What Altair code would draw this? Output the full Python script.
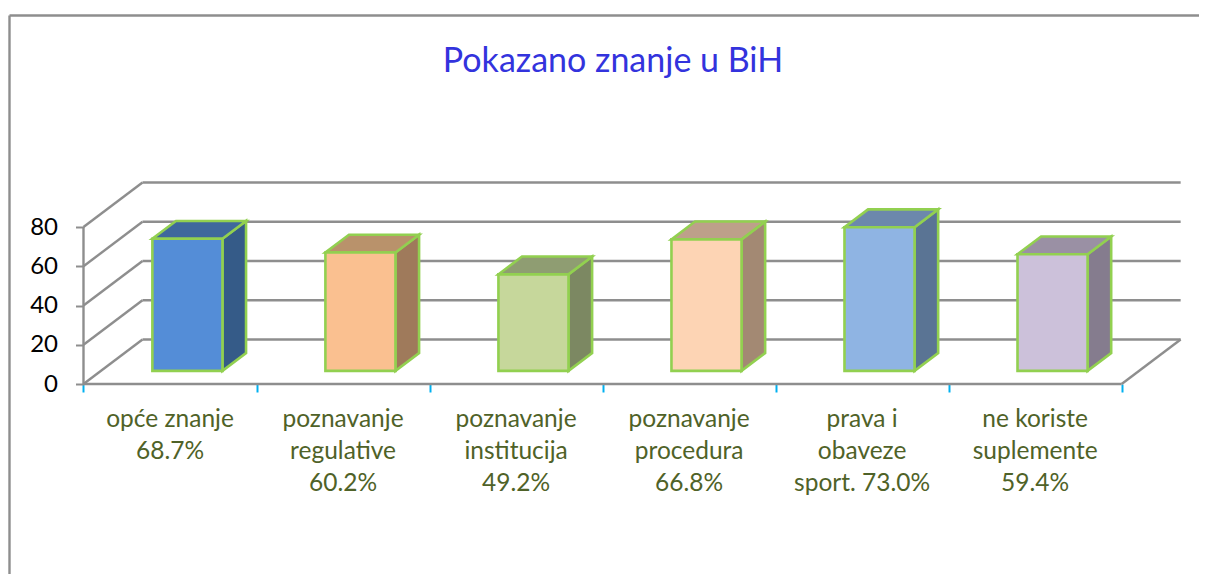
import altair as alt
import pandas as pd

# ---- values ----
categories = ["opće znanje", "poznavanje regulative", "poznavanje institucija",
              "poznavanje procedura", "prava i obaveze sport.", "ne koriste suplemente"]
label_lines = ["opće znanje\n68.7%", "poznavanje\nregulative\n60.2%", "poznavanje\ninstitucija\n49.2%",
               "poznavanje\nprocedura\n66.8%", "prava i\nobaveze\nsport. 73.0%", "ne koriste\nsuplemente\n59.4%"]
values = [67.3, 60.3, 49.2, 67.0, 73.2, 59.4]
front_colors = ["#548dd7", "#fac090", "#c6d79b", "#fdd4b4", "#8fb4e3", "#ccc1da"]
top_colors = ["#3f689c", "#b9926b", "#8f9d72", "#bda08a", "#6c88ac", "#9a90a4"]
side_colors = ["#355b88", "#9f7a5b", "#7c8862", "#a38973", "#5a7494", "#857c8e"]
y_ticks = [0, 20, 40, 60, 80]
x_ticks = [0, 1, 2, 3, 4, 5, 6]

# ---- the 3-D projection, in data units ----
WALL_DX, WALL_DY = 0.341, 22.7          # how far the back wall is shifted
BAR_FRONT = 0.295                       # depth of a bar's front face (share of the wall depth)
BAR_DEPTH = 0.40                        # depth of a bar (share of the wall depth)
BAR_WIDTH = 0.405                       # front-face width, in categories
X_DOM = [-0.4363, 6.447]
Y_DOM = [-96.8, 191.6]

W, H = 1191, 566
LABEL_FONT = "Lato"
GRAY = "#8e8e8e"
GREEN = "#92d050"
LINE = 2.4

xs = alt.Scale(domain=X_DOM, range=[0, W], nice=False, zero=False)
ys = alt.Scale(domain=Y_DOM, range=[H, 0], nice=False, zero=False)
x_ax = alt.Axis(values=x_ticks, offset=-190, domain=False, grid=False, tickColor="#00b0f0",
                tickWidth=2, tickSize=8, labels=False, title=None)
y_ax = alt.Axis(values=y_ticks, offset=-75.5, domain=False, grid=False, tickColor=GRAY, tickWidth=2,
                tickSize=8, labelFont=LABEL_FONT, labelFontSize=24, labelColor="#000000",
                labelPadding=18, title=None)
X = lambda f: alt.X(f, type="quantitative", scale=xs, axis=x_ax)
Y = lambda f: alt.Y(f, type="quantitative", scale=ys, axis=y_ax)

# walls
back_rows = pd.DataFrame([{"x": WALL_DX, "x2": 6 + WALL_DX, "y": v + WALL_DY} for v in y_ticks])
diag_rows = pd.DataFrame([{"x": 0, "x2": WALL_DX, "y": v, "y2": v + WALL_DY} for v in y_ticks]
                         + [{"x": 6, "x2": 6 + WALL_DX, "y": 0, "y2": WALL_DY}])
front_wall = pd.DataFrame([{"x": 0, "y": 0, "y2": 80}])
floor_front = pd.DataFrame([{"x": 0, "x2": 6, "y": 0}])

back = alt.Chart(back_rows).mark_rule(color=GRAY, strokeWidth=LINE).encode(
    x=X("x"), x2="x2", y=Y("y"))
diag = alt.Chart(diag_rows).mark_rule(color=GRAY, strokeWidth=LINE).encode(
    x=X("x"), x2="x2", y=Y("y"), y2="y2")
vert = alt.Chart(front_wall).mark_rule(color=GRAY, strokeWidth=LINE).encode(
    x=X("x"), y=Y("y"), y2="y2")
floor = alt.Chart(floor_front).mark_rule(color=GRAY, strokeWidth=LINE).encode(
    x=X("x"), x2="x2", y=Y("y"))

# bars
front_faces, side_faces, top_faces = [], [], []
for i, v in enumerate(values):
    fx = BAR_FRONT * WALL_DX
    fy = BAR_FRONT * WALL_DY
    dx = BAR_DEPTH * WALL_DX
    dy = BAR_DEPTH * WALL_DY
    xl = i + 0.5 - BAR_WIDTH / 2 + fx
    xr = xl + BAR_WIDTH
    y0 = fy
    y1 = fy + v
    front_faces.append({"x": xl, "x2": xr, "y": y0, "y2": y1, "fill": front_colors[i]})
    for xa, ya, yb in [(xr, y1, y0), (xr + dx, y1 + dy, y0 + dy)]:
        side_faces.append({"id": i, "x": xa, "y": ya, "y2": yb, "fill": side_colors[i]})
    for xa, xb, ya in [(xl, xr, y1), (xl + dx, xr + dx, y1 + dy)]:
        top_faces.append({"id": i, "x": xa, "x2": xb, "y": ya, "fill": top_colors[i]})

front = alt.Chart(pd.DataFrame(front_faces)).mark_rect(stroke=GREEN, strokeWidth=2.6).encode(
    x=X("x"), x2="x2", y=Y("y"), y2="y2", fill=alt.Fill("fill:N", scale=None))
side = alt.Chart(pd.DataFrame(side_faces)).mark_area(stroke=GREEN, strokeWidth=2.6, interpolate="linear").encode(
    x=X("x"), y=Y("y"), y2="y2", detail="id:N", fill=alt.Fill("fill:N", scale=None))
top = alt.Chart(pd.DataFrame(top_faces)).mark_area(stroke=GREEN, strokeWidth=2.6, orient="horizontal", interpolate="linear").encode(
    y=Y("y"), x=X("x"), x2="x2", detail="id:N", fill=alt.Fill("fill:N", scale=None))

label_df = pd.DataFrame({"x": [i + 0.5 for i in range(6)], "y": [-12.4] * 6, "t": label_lines})
x_labels = alt.Chart(label_df).mark_text(
    lineBreak="\n", lineHeight=32, baseline="top", align="center",
    font=LABEL_FONT, fontSize=24.5, color="#4f6228").encode(
    x=X("x"), y=Y("y"), text="t:N")

# chart frame (only the top and left edges are in the picture)
frame = alt.Chart(pd.DataFrame({"a": [0]})).mark_rule(color=GRAY, strokeWidth=LINE).encode(
    x=alt.value(1.5), y=alt.value(7.5), y2=alt.value(H))
frame2 = alt.Chart(pd.DataFrame({"a": [0]})).mark_rule(color=GRAY, strokeWidth=LINE).encode(
    x=alt.value(1.5), x2=alt.value(W), y=alt.value(7.5))

chart = alt.layer(frame, frame2, back, diag, vert, floor,
                  side, top, front, x_labels).properties(
    width=W, height=H, padding=0, background="white",
    autosize=alt.AutoSizeParams(type="none"),
    title=alt.TitleParams("Pokazano znanje u BiH", font=LABEL_FONT, fontSize=34, fontWeight="normal",
                          color="#3333dd", anchor="middle", frame="group", dx=9.5, dy=75, orient="top"),
).configure_view(stroke=None)

chart.save("out.html", embed_options={"renderer": "svg", "actions": False})
